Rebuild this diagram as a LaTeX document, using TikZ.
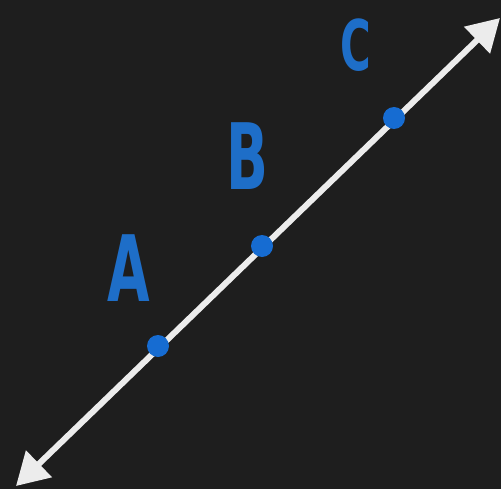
\documentclass[tikz,border=0pt]{standalone}
\usepackage{fontspec}
\setmainfont{DejaVu Sans}
\usetikzlibrary{arrows.meta}
\definecolor{bg}{RGB}{30,30,30}
\definecolor{ptblue}{RGB}{22,108,210}
\definecolor{lblblue}{RGB}{30,110,200}
\definecolor{linewhite}{RGB}{236,236,236}
\begin{document}
\begin{tikzpicture}[x=1bp,y=-1bp,
  dot/.style={circle,fill=ptblue,inner sep=0pt,minimum size=22bp},
  lbl/.style={text=lblblue,inner sep=0pt,xscale=0.6,font=\bfseries\fontsize{92}{92}\selectfont},
  axisline/.style={linewhite,line width=6bp,{Triangle[length=32bp,width=36bp]}-{Triangle[length=32bp,width=36bp]}}]
\fill[bg] (0,0) rectangle (501,489);
\useasboundingbox (0,0) rectangle (501,489);
\coordinate (p1) at (16,486);
\coordinate (p2) at (500,18);
\draw[axisline] (p1) -- (p2);
\node[dot] (dA) at (158,346) {};
\node[dot] (dB) at (262,246) {};
\node[dot] (dC) at (394,118) {};
\node[lbl] (lA) at (129,268) {A};
\node[lbl] (lB) at (247,156) {B};
\node[lbl,font=\bfseries\fontsize{70}{70}\selectfont] (lC) at (356,45) {C};
\end{tikzpicture}
\end{document}
